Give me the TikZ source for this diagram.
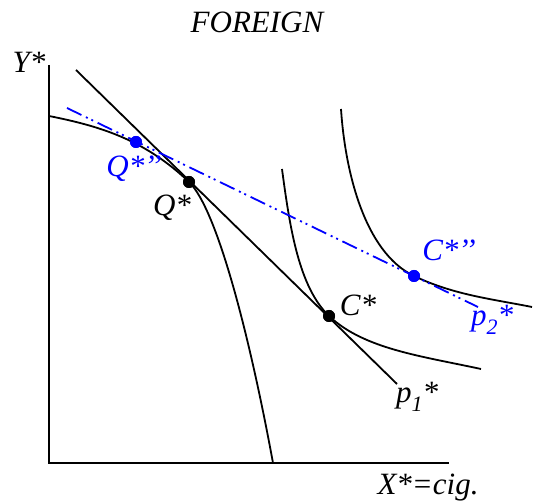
\documentclass[tikz,border=0pt]{standalone}
\usepackage{fontspec}
\setmainfont{Liberation Serif}
\begin{document}
\begin{tikzpicture}[x=1pt,y=-1pt,
  axisline/.style={line width=1.7pt},
  curveline/.style={line width=1.8pt},
  blueline/.style={blue, line width=1.8pt, dash pattern=on 16pt off 5pt on 2pt off 4pt on 2pt off 5pt},
  bdot/.style={circle, fill=black, inner sep=0pt, minimum size=12pt},
  ddot/.style={circle, fill=blue, inner sep=0pt, minimum size=12pt},
  lbl/.style={font=\fontsize{31}{33}\selectfont\itshape, inner sep=0pt},
  blbl/.style={lbl, text=blue}]
\useasboundingbox (0,0) rectangle (533,502);
% axes
\coordinate (Ytop) at (49,65);
\coordinate (O) at (49,463);
\coordinate (Xend) at (449,463);
\draw[axisline] (Ytop) -- (O) -- (Xend);
% key points
\node[bdot] (Q) at (189,182) {};
\node[ddot] (Q2) at (136,142) {};
\node[bdot] (C) at (329,316) {};
\node[ddot] (C2) at (414,276) {};
% PPF
\coordinate (P0) at (49,116);
\coordinate (P1) at (273,463);
\draw[curveline] (P0) .. controls (99,126) and (144,139) .. (Q.center)
  .. controls (218,210) and (251,343) .. (P1);
% indifference curves
\coordinate (I1a) at (282,169);
\coordinate (I1b) at (481,369);
\draw[curveline] (I1a) .. controls (290,229) and (299,287) .. (C.center)
  .. controls (364,349) and (421,356) .. (I1b);
\coordinate (I2a) at (341,109);
\coordinate (I2b) at (532,307);
\draw[curveline] (I2a) .. controls (345,170) and (364,252) .. (C2.center)
  .. controls (454,295) and (492,299) .. (I2b);
% price lines
\coordinate (L1a) at (76,70);
\coordinate (L1b) at (397,384);
\draw[curveline] (L1a) -- (L1b);
\coordinate (L2a) at (67,108);
\coordinate (L2b) at (478,307);
\draw[blueline] (L2a) -- (L2b);
% redraw dots on top
\node[bdot] at (Q) {};
\node[ddot] at (Q2) {};
\node[bdot] at (C) {};
\node[ddot] at (C2) {};
% labels
\node[lbl] (title) at (257,22) {FOREIGN};
\node[lbl] (ylab) at (29,62) {Y*};
\node[lbl] (xlab) at (428,488) {X*=cig.};
\node[blbl] (lQ2) at (134,169) {Q*’’};
\node[lbl] (lQ) at (172,208) {Q*};
\node[lbl] (lC) at (358,305) {C*};
\node[blbl] (lC2) at (449,250) {C*’’};
\node[blbl] (lp2) at (492,320) {p\raisebox{-0.28em}{\fontsize{22}{24}\selectfont 2}*};
\node[lbl] (lp1) at (417,397) {p\raisebox{-0.28em}{\fontsize{22}{24}\selectfont 1}*};
\end{tikzpicture}
\end{document}
